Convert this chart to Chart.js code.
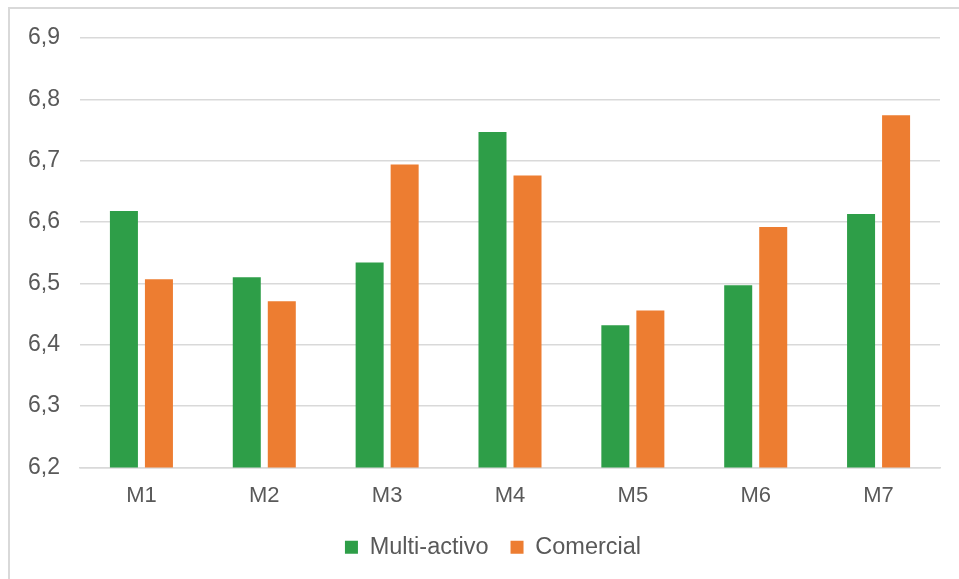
<!DOCTYPE html>
<html>
<head>
<meta charset="utf-8">
<script src="https://cdn.jsdelivr.net/npm/chart.js@4/dist/chart.umd.min.js"></script>
<style>
  html, body { margin: 0; padding: 0; background: #fff; }
  #wrap { position: relative; width: 959px; height: 579px; }
  #frame { position: absolute; left: 8px; top: 7px; right: -2px; bottom: -2px; border-left: 2px solid #d9d9d9; border-top: 2px solid #d9d9d9; pointer-events: none; }
  canvas { position: absolute; left: 0; top: 0; }
</style>
</head>
<body>
<div id="wrap">
  <canvas id="chart" width="959" height="579"></canvas>
  <div id="frame"></div>
</div>
<script>
const categories = ["M1", "M2", "M3", "M4", "M5", "M6", "M7"];
const multiActivo = [6.618, 6.510, 6.534, 6.747, 6.432, 6.497, 6.613];
const comercial = [6.507, 6.471, 6.694, 6.676, 6.456, 6.592, 6.774];
const seriesNames = ["Multi-activo", "Comercial"];
const yTicks = [6.2, 6.3, 6.4, 6.5, 6.6, 6.7, 6.8, 6.9];

const textColor = "#595959";
const gridColor = "#d9d9d9";
const fontFamily = "'Liberation Sans', Arial, sans-serif";

// centre the legend row under the plot rather than the whole canvas
const legendShift = {
  id: "legendShift",
  afterLayout(chart) {
    if (chart.legend) chart.legend.left = 46;
  }
};

new Chart(document.getElementById("chart"), {
  type: "bar",
  data: {
    labels: categories,
    datasets: [
      { label: seriesNames[0], data: multiActivo, backgroundColor: "#2e9e48", categoryPercentage: 0.57, barPercentage: 0.8 },
      { label: seriesNames[1], data: comercial, backgroundColor: "#ed7d31", categoryPercentage: 0.57, barPercentage: 0.8 }
    ]
  },
  plugins: [legendShift],
  options: {
    responsive: false,
    animation: false,
    layout: { padding: { top: 38, right: 19, bottom: 10, left: 0 } },
    plugins: {
      tooltip: { enabled: false },
      legend: {
        position: "bottom",
        labels: {
          color: textColor,
          font: { family: fontFamily, size: 23.5 },
          boxWidth: 13,
          boxHeight: 13,
          padding: 22
        }
      }
    },
    scales: {
      x: {
        grid: { display: false, drawTicks: false },
        border: { display: true, color: gridColor, width: 1.5 },
        ticks: { color: textColor, font: { family: fontFamily, size: 22 }, padding: 15 },
        afterFit: (s) => { s.height = 46; }
      },
      y: {
        min: 6.2,
        max: 6.9,
        afterBuildTicks: (s) => { s.ticks = yTicks.map(v => ({ value: v })); },
        grid: { color: gridColor, lineWidth: 1.5, drawTicks: false },
        border: { display: false },
        ticks: {
          color: textColor,
          font: { family: fontFamily, size: 23 },
          padding: 20,
          callback: (v) => v.toFixed(1).replace(".", ",")
        },
        afterFit: (s) => { s.width = 80; }
      }
    }
  }
});
</script>
</body>
</html>
